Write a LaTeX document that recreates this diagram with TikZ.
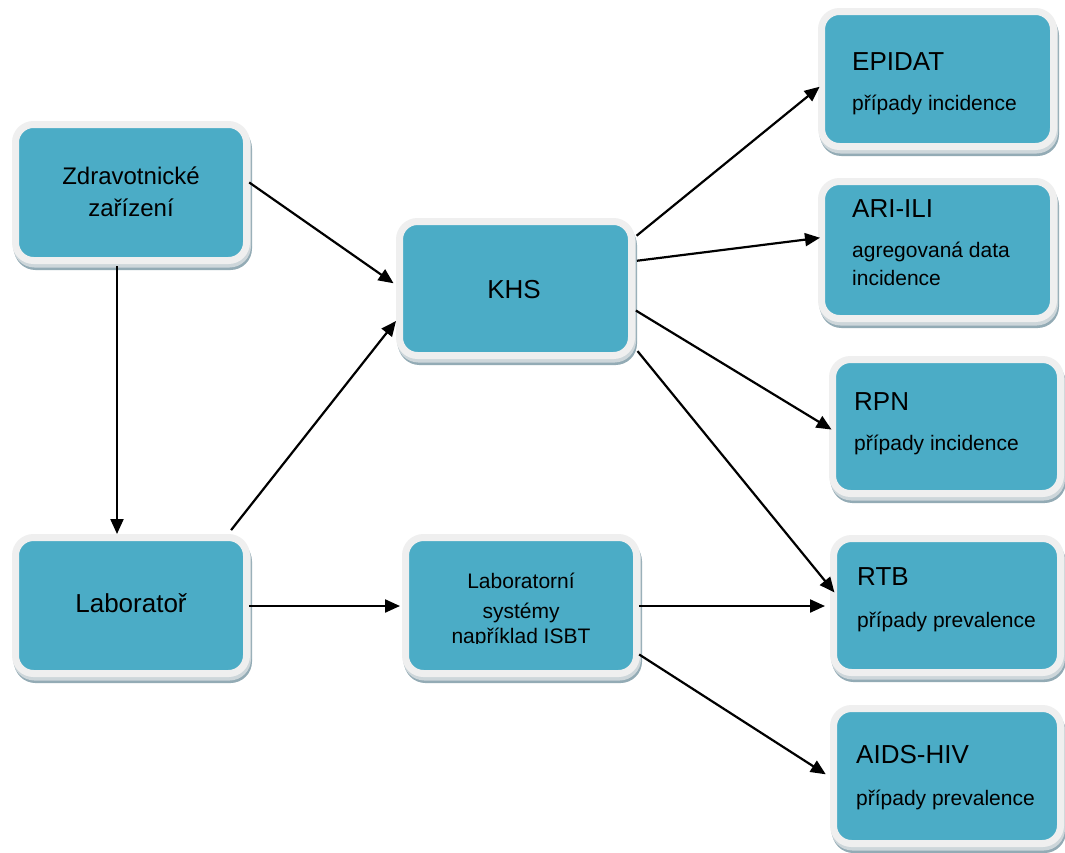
\documentclass[tikz,border=0pt]{standalone}
\usepackage{fontspec}
\setmainfont{Liberation Sans}
\usetikzlibrary{arrows.meta}
\definecolor{boxfill}{HTML}{4BACC6}
\definecolor{frame}{HTML}{EFEFEF}
\definecolor{shadowdark}{HTML}{93ABB5}
\definecolor{shadowlight}{HTML}{CDD6DA}
\tikzset{
  box/.style={rectangle, rounded corners=18pt, fill=boxfill, draw=frame, line width=7pt, inner sep=0pt,
    preaction={fill=shadowdark, draw=shadowdark, line width=7pt, transform canvas={xshift=2pt,yshift=-6pt}},
    preaction={fill=shadowlight, draw=shadowlight, line width=7pt, transform canvas={xshift=1pt,yshift=-3.5pt}}},
  arr/.style={draw=black, line width=2.2pt, -{Triangle[length=15pt,width=13pt]}},
  ttl/.style={anchor=base west, inner sep=0pt, font=\fontsize{26}{30}\selectfont},
  sub/.style={anchor=base west, inner sep=0pt, font=\fontsize{21}{28}\selectfont},
  ctr/.style={anchor=base, inner sep=0pt}
}
\begin{document}
\begin{tikzpicture}[x=1pt,y=-1pt]
\useasboundingbox[fill=white] (0,0) rectangle (1065,852);
% boxes (outer frame sizes minus line width)
\node[box, minimum width=231pt, minimum height=136pt] (Z) at (131,192.5) {};
\node[box, minimum width=231pt, minimum height=136pt] (L) at (131,605.5) {};
\node[box, minimum width=232pt, minimum height=134pt] (K) at (515.5,288.5) {};
\node[box, minimum width=231pt, minimum height=136pt] (S) at (521,605.5) {};
\node[box, minimum width=232pt, minimum height=135pt] (E) at (937.5,79) {};
\node[box, minimum width=232pt, minimum height=137pt] (A) at (937.5,250) {};
\node[box, minimum width=228pt, minimum height=134pt] (R) at (946.5,426.5) {};
\node[box, minimum width=227pt, minimum height=134pt] (T) at (947,605.5) {};
\node[box, minimum width=227pt, minimum height=135pt] (H) at (947,776) {};
% centred texts
\node[ctr, font=\fontsize{24}{32}\selectfont] (zt1) at (131,184) {Zdravotnické};
\node[ctr, font=\fontsize{24}{32}\selectfont] (zt2) at (131,216) {zařízení};
\node[ctr, font=\fontsize{26}{30}\selectfont] (kt) at (514,298) {KHS};
\node[ctr, font=\fontsize{26}{30}\selectfont] (lt) at (131,612) {Laboratoř};
\node[ctr, font=\fontsize{21}{28}\selectfont] (st1) at (521,588) {Laboratorní};
\node[ctr, font=\fontsize{21}{28}\selectfont] (st2) at (521,618) {systémy};
\begin{scope}
\clip (400,600) rectangle (640,643);
\node[ctr, font=\fontsize{21}{28}\selectfont] (st3) at (521,643) {například ISBT};
\end{scope}
% right texts
\node[ttl] (et) at (852,70) {EPIDAT};
\node[sub] (es) at (852,110) {případy incidence};
\node[ttl] (at) at (852,217) {ARI-ILI};
\node[sub] (as1) at (852,257) {agregovaná data};
\node[sub] (as2) at (852,285) {incidence};
\node[ttl] (rt) at (854,410) {RPN};
\node[sub] (rs) at (854,450) {případy incidence};
\node[ttl] (tt) at (857,585) {RTB};
\node[sub] (ts) at (857,627) {případy prevalence};
\node[ttl] (ht) at (856,763) {AIDS-HIV};
\node[sub] (hs) at (856,805) {případy prevalence};
% connectors
\draw[arr, shorten <=-1pt, shorten >=3pt] (Z.east |- 0,183) -- (K.west |- 0,285);
\draw[arr, shorten <=2pt] (Z.south -| 117,0) -- (L.north -| 117,0);
\draw[arr, shorten <=5pt] (L.north -| 228,0) -- (K.west |- 0,321);
\draw[arr, shorten <=-1pt, shorten >=2pt] (L.east |- 0,606) -- (S.west |- 0,606);
\draw[arr, shorten <=2pt, shorten >=-2pt] (K.east |- 0,237) -- (E.west |- 0,88);
\draw[arr, shorten <=2pt, shorten >=-2pt] (K.east |- 0,261) -- (A.west |- 0,238);
\draw[arr, shorten <=1pt, shorten >=-3pt] (K.east |- 0,310) -- (R.west |- 0,428);
\draw[arr, shorten <=4pt, shorten >=-7pt] (K.east |- 0,348) -- (T.west |- 0,587);
\draw[arr, shorten <=-1pt, shorten >=5pt] (S.east |- 0,606) -- (T.west |- 0,606);
\draw[arr, shorten <=-1pt, shorten >=5pt] (S.east |- 0,655) -- (H.west |- 0,777);
\end{tikzpicture}
\end{document}
